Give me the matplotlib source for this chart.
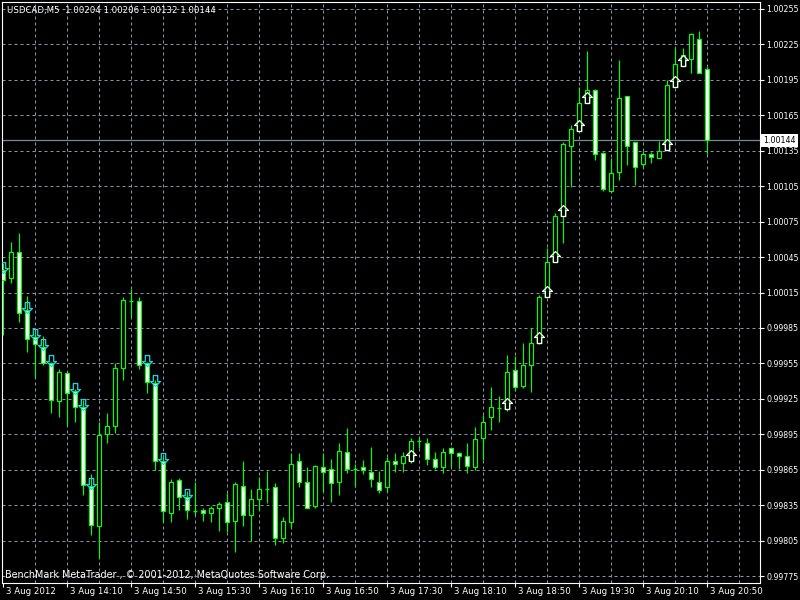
import numpy as np
import matplotlib
matplotlib.use('Agg')
import matplotlib.pyplot as plt
from matplotlib.patches import Rectangle
from matplotlib.path import Path
from matplotlib.transforms import ScaledTranslation, blended_transform_factory

# USDCAD M5, 3 Aug 2012, 13:30 .. 20:50
symbol = 'USDCAD,M5'
opens = [1.00034, 1.00027, 1.00049, 1.00000, 0.99977, 0.99969, 0.99955, 0.99923, 0.99947, 0.99932,
         0.99918, 0.99851, 0.99817, 0.99895, 0.99902, 0.99951, 1.00008, 1.00008, 0.99955, 0.99938,
         0.99872, 0.99828, 0.99856, 0.99842, 0.99830, 0.99831, 0.99828, 0.99833, 0.99838, 0.99822,
         0.99851, 0.99827, 0.99840, 0.99849, 0.99850, 0.99807, 0.99821, 0.99872, 0.99855, 0.99834,
         0.99867, 0.99866, 0.99855, 0.99880, 0.99866, 0.99867, 0.99863, 0.99855, 0.99850, 0.99872,
         0.99871, 0.99872, 0.99889, 0.99888, 0.99874, 0.99867, 0.99883, 0.99879, 0.99877, 0.99867,
         0.99892, 0.99910, 0.99917, 0.99916, 0.99949, 0.99936, 0.99954, 0.99972, 1.00011, 1.00041,
         1.00080, 1.00139, 1.00152, 1.00175, 1.00186, 1.00133, 1.00101, 1.00117, 1.00181, 1.00142,
         1.00124, 1.00132, 1.00129, 1.00136, 1.00189, 1.00207, 1.00213, 1.00230, 1.00204]
highs = [1.00040, 1.00058, 1.00065, 1.00012, 0.99983, 0.99978, 0.99956, 0.99950, 0.99948, 0.99933,
         0.99924, 0.99861, 0.99905, 0.99913, 0.99955, 1.00011, 1.00018, 1.00011, 0.99956, 0.99941,
         0.99877, 0.99857, 0.99858, 0.99847, 0.99855, 0.99833, 0.99834, 0.99838, 0.99845, 0.99855,
         0.99872, 0.99849, 0.99859, 0.99864, 0.99854, 0.99825, 0.99879, 0.99879, 0.99867, 0.99869,
         0.99879, 0.99874, 0.99888, 0.99900, 0.99870, 0.99873, 0.99884, 0.99864, 0.99876, 0.99879,
         0.99880, 0.99892, 0.99892, 0.99892, 0.99880, 0.99883, 0.99884, 0.99880, 0.99888, 0.99901,
         0.99911, 0.99935, 0.99927, 0.99962, 0.99961, 0.99972, 0.99985, 1.00013, 1.00053, 1.00082,
         1.00142, 1.00157, 1.00189, 1.00219, 1.00187, 1.00134, 1.00129, 1.00212, 1.00181, 1.00142,
         1.00135, 1.00134, 1.00143, 1.00195, 1.00222, 1.00222, 1.00235, 1.00236, 1.00206]
lows = [0.99979, 1.00023, 0.99990, 0.99965, 0.99943, 0.99954, 0.99913, 0.99910, 0.99903, 0.99905,
        0.99844, 0.99810, 0.99790, 0.99888, 0.99896, 0.99941, 0.99994, 0.99950, 0.99930, 0.99865,
        0.99821, 0.99821, 0.99831, 0.99823, 0.99827, 0.99822, 0.99821, 0.99813, 0.99812, 0.99795,
        0.99817, 0.99805, 0.99831, 0.99837, 0.99801, 0.99803, 0.99816, 0.99850, 0.99833, 0.99833,
        0.99846, 0.99838, 0.99844, 0.99862, 0.99850, 0.99861, 0.99850, 0.99845, 0.99846, 0.99863,
        0.99863, 0.99871, 0.99883, 0.99869, 0.99866, 0.99862, 0.99867, 0.99866, 0.99862, 0.99865,
        0.99873, 0.99899, 0.99905, 0.99915, 0.99932, 0.99934, 0.99931, 0.99971, 1.00011, 1.00041,
        1.00057, 1.00104, 1.00152, 1.00175, 1.00127, 1.00101, 1.00100, 1.00110, 1.00123, 1.00106,
        1.00121, 1.00125, 1.00129, 1.00136, 1.00189, 1.00207, 1.00201, 1.00201, 1.00132]
closes = [1.00026, 1.00049, 0.99998, 0.99976, 0.99971, 0.99955, 0.99924, 0.99948, 0.99930, 0.99918,
          0.99852, 0.99818, 0.99894, 0.99902, 0.99951, 1.00009, 1.00008, 0.99954, 0.99939, 0.99872,
          0.99830, 0.99855, 0.99842, 0.99831, 0.99830, 0.99828, 0.99833, 0.99836, 0.99821, 0.99853,
          0.99827, 0.99840, 0.99849, 0.99849, 0.99807, 0.99822, 0.99870, 0.99855, 0.99833, 0.99868,
          0.99863, 0.99854, 0.99881, 0.99866, 0.99866, 0.99865, 0.99857, 0.99848, 0.99872, 0.99870,
          0.99877, 0.99889, 0.99889, 0.99874, 0.99867, 0.99880, 0.99879, 0.99877, 0.99868, 0.99891,
          0.99905, 0.99918, 0.99917, 0.99948, 0.99935, 0.99954, 0.99972, 1.00011, 1.00041, 1.00080,
          1.00141, 1.00153, 1.00175, 1.00186, 1.00132, 1.00103, 1.00116, 1.00180, 1.00139, 1.00121,
          1.00132, 1.00130, 1.00135, 1.00191, 1.00208, 1.00216, 1.00234, 1.00201, 1.00144]

# bars where the expert drew signal arrows
sell_bars = [0, 3, 4, 5, 6, 9, 10, 11, 18, 19, 20, 23]
buy_bars = [51, 63, 67, 68, 69, 70, 72, 73, 83, 84, 85]

label_bars = [0, 8, 16, 24, 32, 40, 48, 56, 64, 72, 80, 88]
time_labels = ['3 Aug 2012', '3 Aug 14:10', '3 Aug 14:50', '3 Aug 15:30', '3 Aug 16:10',
               '3 Aug 16:50', '3 Aug 17:30', '3 Aug 18:10', '3 Aug 18:50', '3 Aug 19:30',
               '3 Aug 20:10', '3 Aug 20:50']
price_ticks = np.round(np.arange(0.99775, 1.002551, 0.0003), 5)
copyright_text = 'BenchMark MetaTrader , \u00a9 2001-2012, MetaQuotes Software Corp.'

GREEN = '#00ff00'
GRID = '#8a96a3'
FS = 6.2
FS_PRICE = 5.7

fig = plt.figure(figsize=(8, 6), dpi=100, facecolor='black')
ax = fig.add_axes([2 / 800, 17 / 600, 758 / 800, 581 / 600])
ax.set_facecolor('black')
ax.set_xlim(-0.125, 94.625)
ax.set_ylim(0.997691, 1.002609)
for s in ax.spines.values():
    s.set_color('white')
    s.set_linewidth(0.8)

# dashed grid
for p in price_ticks:
    ax.axhline(p, color=GRID, lw=0.72, ls=(0, (3, 3)), zorder=0)
for b in np.arange(4, 95, 4):
    ax.axvline(b, color=GRID, lw=0.72, ls=(0, (3, 3)), zorder=0)

# candles
x = np.arange(len(opens))
w = 0.5
ax.vlines(x, lows, highs, color=GREEN, lw=0.85, zorder=2)
for i in x:
    o, c = opens[i], closes[i]
    if o == c:
        ax.hlines(o, i - w / 2, i + w / 2, color=GREEN, lw=1.0, zorder=3)
    else:
        fill = 'black' if c > o else 'white'
        ax.add_patch(Rectangle((i - w / 2, min(o, c)), w, abs(c - o),
                               facecolor=fill, edgecolor=GREEN, lw=0.85, zorder=3))

# signal arrows
up_arrow = Path([(0, 2), (0.9, 1.1), (0.4, 1.1), (0.4, 0), (-0.4, 0), (-0.4, 1.1),
                 (-0.9, 1.1), (0, 2)], closed=True)
down_arrow = Path([(0, 0), (0.9, 0.9), (0.4, 0.9), (0.4, 2), (-0.4, 2), (-0.4, 0.9),
                   (-0.9, 0.9), (0, 0)], closed=True)
ax.plot(buy_bars, [opens[i] for i in buy_bars], ls='none', marker=up_arrow, ms=15.8,
        mfc='none', mec='white', mew=0.9, zorder=5)
ax.plot(sell_bars, [opens[i] for i in sell_bars], ls='none', marker=down_arrow, ms=15.8,
        mfc='none', mec='#19d7f0', mew=0.9, zorder=5,
        transform=ax.transData + ScaledTranslation(0, -0.03, fig.dpi_scale_trans))

# price axis
ax.yaxis.tick_right()
ax.set_yticks(price_ticks)
ax.set_yticklabels([f'{p:.5f}' for p in price_ticks])
ax.tick_params(axis='y', colors='white', length=3, width=0.8, labelsize=FS_PRICE, pad=1.5)

# time axis
ax.set_xticks(label_bars)
ax.set_xticklabels([])
ax.tick_params(axis='x', colors='white', length=3, width=0.8)
xt = blended_transform_factory(ax.transData, ax.transAxes) + \
    ScaledTranslation(0.03, -0.085, fig.dpi_scale_trans)
for b, lab in zip(label_bars, time_labels):
    ax.text(b, 0, lab, transform=xt, ha='left', va='center', color='white',
            fontsize=FS, clip_on=False)

# last price line and label
last = closes[-1]
ax.axhline(last, color='#778899', lw=0.9, zorder=1)
lt = blended_transform_factory(ax.transAxes, ax.transData) + \
    ScaledTranslation(0.035, 0, fig.dpi_scale_trans)
ax.text(1.0, last, f'{last:.5f}', transform=lt, ha='left', va='center', color='black',
        fontsize=FS_PRICE, clip_on=False, zorder=10,
        bbox=dict(facecolor='white', edgecolor='none', pad=1.5))

header = f'{symbol}  {opens[-1]:.5f} {highs[-1]:.5f} {lows[-1]:.5f} {closes[-1]:.5f}'
fig.text(7 / 800, 1 - 10 / 600, header, color='white', fontsize=FS, va='center')
fig.text(5 / 800, 1 - 575 / 600, copyright_text, color='white', fontsize=6.9, va='center')

fig.savefig('out.png', dpi=100, facecolor='black')
